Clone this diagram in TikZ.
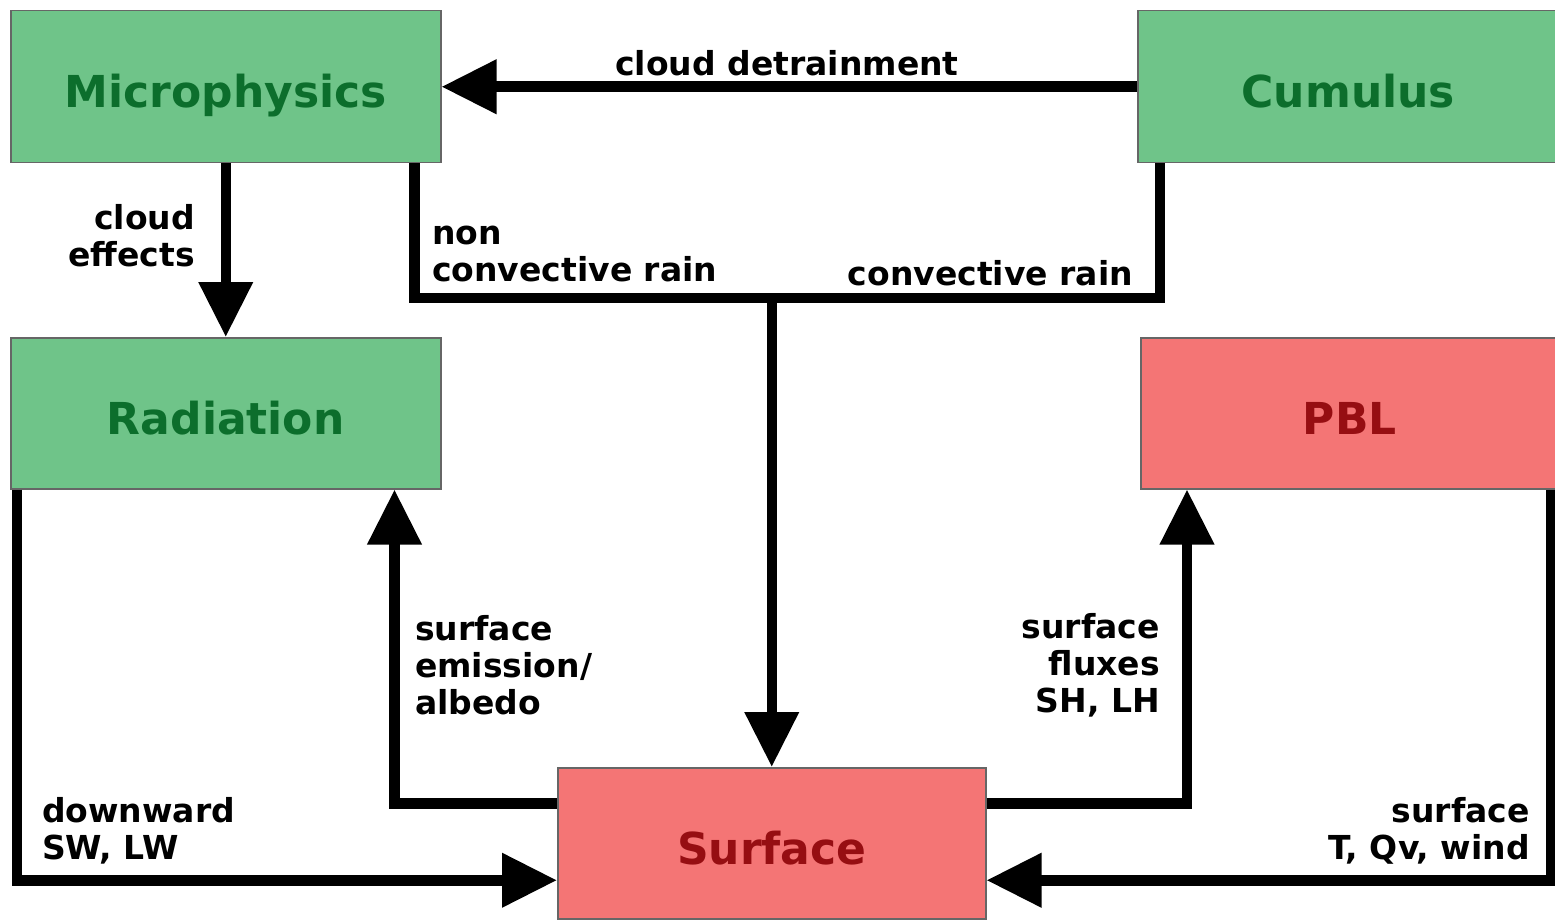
\documentclass[tikz,border=0pt]{standalone}
\usepackage{fontspec}
\setmainfont{DejaVu Sans}
\usepackage{xcolor}
\usetikzlibrary{arrows.meta, positioning}

\definecolor{boxgreen}{RGB}{111,196,137}
\definecolor{txtgreen}{RGB}{12,110,44}
\definecolor{boxred}{RGB}{244,117,117}
\definecolor{txtred}{RGB}{150,14,18}

\begin{document}
\begin{tikzpicture}[x=1pt, y=-1pt,
    scheme/.style={draw=black!60, line width=1.5pt, anchor=north west, inner sep=0pt,
        minimum width=430pt, minimum height=152pt, text height=42pt, text depth=0pt,
        font=\fontsize{44}{48}\selectfont\bfseries},
    greenbox/.style={scheme, fill=boxgreen, text=txtgreen},
    redbox/.style={scheme, fill=boxred, text=txtred},
    link/.style={line width=10.5pt, line join=miter},
    flow/.style={link, -{Triangle[length=55pt, width=52pt]}},
    lbl/.style={font=\fontsize{33}{37}\selectfont\bfseries, inner sep=0pt}]

    \useasboundingbox (0,0) rectangle (1555,920);

    % Boxes
    \node[greenbox] (micro) at (10,10) {Microphysics};
    \node[greenbox, minimum width=421pt] (cumulus) at (1137,10) {Cumulus};
    \node[greenbox, minimum height=151pt] (radiation) at (10,337) {Radiation};
    \node[redbox, minimum width=418pt, minimum height=151pt] (pbl) at (1140,337) {PBL};
    \node[redbox, minimum width=428pt, minimum height=151pt] (surface) at (557,767) {Surface};

    % Top row
    \draw[flow] (cumulus.west) -- (micro.east);
    \draw[flow] (micro.south) -- (radiation.north);

    % Rain
    \coordinate (rain) at (surface.north |- 0,298);
    \draw[link] ([xshift=-27pt]micro.south east) |- (rain)
        -| ([xshift=23pt]cumulus.south west);
    \draw[flow] (rain) -- (surface.north);

    % Surface feedback
    \draw[flow] ([yshift=40pt]surface.west) -| ([xshift=-47pt]radiation.south east);
    \draw[flow] ([yshift=40pt]surface.east) -| ([xshift=47pt]pbl.south west);
    \draw[flow] ([xshift=7pt]radiation.south west) |- ([yshift=-37pt]surface.west);
    \draw[flow] ([xshift=-8pt]pbl.south east) |- ([yshift=-37pt]surface.east);

    % Labels
    \node[lbl] (detrain) at (787,63) {cloud detrainment};
    \node[lbl, align=right, anchor=east] (effects) at (195,236) {cloud\\effects};
    \node[lbl, align=left, anchor=west] (nonconv) at (432,254) {non\\convective rain};
    \node[lbl, anchor=east] (conv) at (1133,273) {convective rain};
    \node[lbl, align=left, anchor=west] (emission) at (415,665) {surface\\emission/\\albedo};
    \node[lbl, align=right, anchor=east] (fluxes) at (1160,665) {surface\\fluxes\\SH, LH};
    \node[lbl, align=left, anchor=west] (downward) at (42,831) {downward\\SW, LW};
    \node[lbl, align=right, anchor=east] (sfcvars) at (1530,831) {surface\\T, Qv, wind};
\end{tikzpicture}
\end{document}
